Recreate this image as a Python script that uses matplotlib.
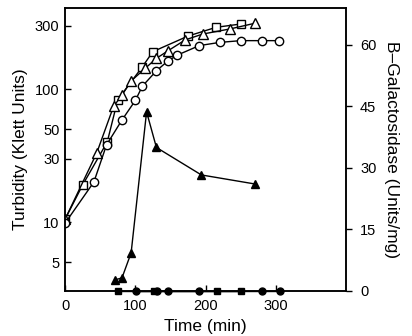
import matplotlib.pyplot as plt
from matplotlib.ticker import FixedLocator, NullLocator

plt.rcParams['font.family'] = ['Liberation Sans', 'DejaVu Sans']

# turbidity (left axis, Klett units)
sq_t = [0, 25, 60, 75, 110, 125, 175, 215, 250]
sq_y = [10.5, 19, 40, 83, 147, 191, 250, 291, 308]

tri_t = [0, 45, 69, 81, 94, 114, 130, 146, 171, 196, 235, 270]
tri_y = [10.5, 33, 74, 90, 115, 143, 170, 193, 234, 259, 283, 312]

circ_t = [0, 41, 59, 81, 100, 110, 130, 146, 160, 191, 220, 250, 280, 305]
circ_y = [9.8, 20, 38, 58.5, 82, 105, 137, 162, 180, 212, 224, 231, 231, 231]

# beta-galactosidase (right axis, units/mg)
ftri_t = [71, 81, 94, 116, 130, 194, 270]
ftri_y = [2.7, 3.2, 9.3, 43.7, 35, 28.3, 26.1]

fsq_t = [76, 126, 216, 251]
fsq_y = [0, 0, 0, 0]

fcirc_t = [101, 131, 147, 191, 281, 306]
fcirc_y = [0, 0, 0, 0, 0, 0]

fig = plt.figure(figsize=(4.12, 3.36), dpi=100)
ax = fig.add_axes([0.158, 0.134, 0.682, 0.842])
ax2 = ax.twinx()

ms = 6
ax.plot(sq_t, sq_y, color='black', lw=1, marker='s', ms=ms, mfc='white', mew=1)
ax.plot(tri_t, tri_y, color='black', lw=1, marker='^', ms=ms + 1, mfc='white', mew=1)
ax.plot(circ_t, circ_y, color='black', lw=1, marker='o', ms=ms, mfc='white', mew=1)

ax2.plot(ftri_t, ftri_y, color='black', lw=1, marker='^', ms=5.5, clip_on=False)
ax2.plot(fsq_t, fsq_y, color='black', lw=1, marker='s', ms=5, clip_on=False)
ax2.plot(fcirc_t, fcirc_y, color='black', lw=1, marker='o', ms=5, clip_on=False)

ax.set_yscale('log')
ax.set_ylim(3.03, 406)
ax.set_xlim(0, 400)
ax2.set_ylim(0, 69)

ax.yaxis.set_major_locator(FixedLocator([5, 10, 30, 50, 100, 300]))
ax.yaxis.set_minor_locator(NullLocator())
ax.set_yticklabels(['5', '10', '30', '50', '100', '300'])
ax.set_xticks([0, 100, 200, 300])
ax2.set_yticks([0, 15, 30, 45, 60])

ax.tick_params(axis='both', direction='in', length=4, width=1, labelsize=10.5, pad=4)
ax.tick_params(axis='x', pad=6)
ax2.tick_params(axis='y', direction='out', length=4, width=1, labelsize=10.5, pad=6)

for a in (ax, ax2):
    for s in a.spines.values():
        s.set_linewidth(1.1)

ax.set_xlabel('Time (min)', fontsize=12.5, labelpad=4)
ax.set_ylabel('Turbidity (Klett Units)', fontsize=12.5, labelpad=5)
ax2.set_ylabel('B\u2013Galactosidase (Units/mg)', fontsize=12.5, rotation=270, labelpad=16)

fig.savefig('out.png', dpi=100)
